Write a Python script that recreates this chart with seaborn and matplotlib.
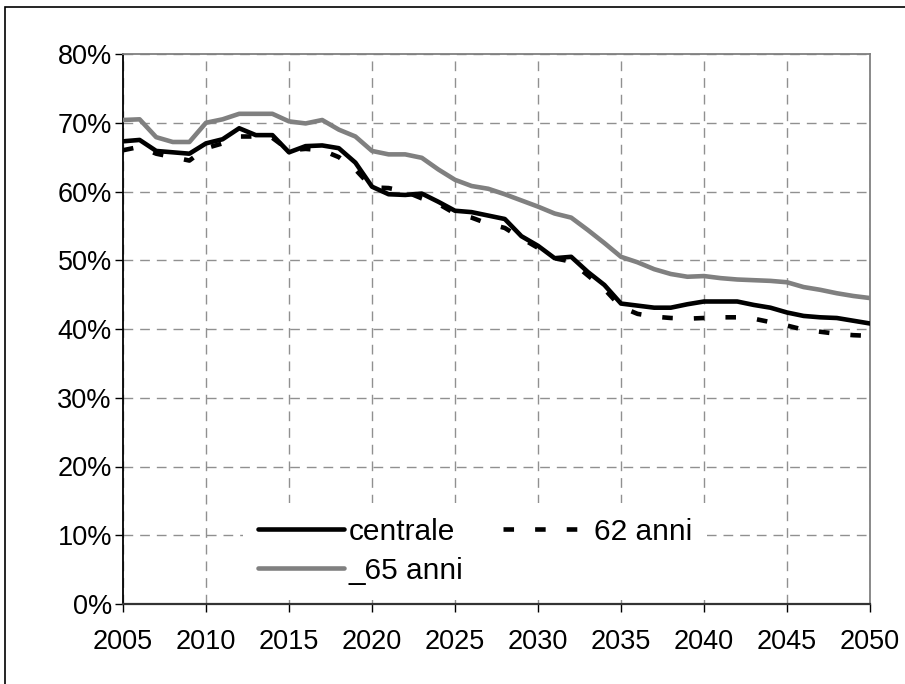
import numpy as np
import pandas as pd
import matplotlib
matplotlib.use("Agg")
import matplotlib.pyplot as plt
from matplotlib.lines import Line2D
from matplotlib.patches import Rectangle
import matplotlib.ticker as mticker
import seaborn as sns

years = list(range(2005, 2051))
centrale = [67.3, 67.5, 65.9, 65.7, 65.5, 67.0, 67.6, 69.2, 68.2, 68.2,
            65.7, 66.6, 66.7, 66.3, 64.2, 60.7, 59.6, 59.5, 59.7, 58.5,
            57.2, 57.0, 56.5, 56.0, 53.5, 52.1, 50.3, 50.5, 48.3, 46.4,
            43.7, 43.4, 43.1, 43.1, 43.6, 44.0, 44.0, 44.0, 43.5, 43.1,
            42.4, 41.9, 41.7, 41.6, 41.2, 40.8]
anni62 = [66.0, 66.5, 65.5, 65.0, 64.5, 66.3, 67.0, 68.0, 68.0, 67.8,
          66.0, 66.2, 66.0, 65.0, 63.2, 60.6, 60.5, 60.0, 59.0, 58.2,
          56.8, 56.2, 55.3, 54.7, 53.2, 51.8, 50.3, 49.8, 47.8, 45.8,
          43.2, 42.2, 41.8, 41.6, 41.5, 41.6, 41.7, 41.7, 41.5, 41.0,
          40.5, 39.9, 39.6, 39.3, 39.1, 39.0]
anni65 = [70.4, 70.5, 67.9, 67.2, 67.2, 70.0, 70.5, 71.3, 71.3, 71.3,
          70.2, 69.9, 70.4, 69.0, 68.0, 65.9, 65.4, 65.4, 64.9, 63.2,
          61.7, 60.8, 60.4, 59.6, 58.7, 57.8, 56.8, 56.2, 54.4, 52.5,
          50.5, 49.7, 48.7, 48.0, 47.6, 47.7, 47.4, 47.2, 47.1, 47.0,
          46.8, 46.1, 45.7, 45.2, 44.8, 44.5]
labels = ["centrale", "62 anni", "_65 anni"]
xticks = list(range(2005, 2051, 5))
yticks = list(range(0, 81, 10))

df = pd.DataFrame({"anno": years, "centrale": centrale,
                   "62 anni": anni62, "_65 anni": anni65})

sns.set_style("white")
plt.rcParams["font.family"] = ["Liberation Sans", "DejaVu Sans"]
plt.rcParams["text.color"] = "black"

fig = plt.figure(figsize=(9.05, 6.84), dpi=100)
ax = fig.add_axes([123 / 905, 1 - 604 / 684, 747 / 905, 550 / 684])

grey = "#808080"
sns.lineplot(data=df, x="anno", y="centrale", ax=ax, color="black", lw=3.3, zorder=3)
sns.lineplot(data=df, x="anno", y="62 anni", ax=ax, color="black", lw=3.3, zorder=4,
             linestyle=(0, (2.3, 4.6)))
sns.lineplot(data=df, x="anno", y="_65 anni", ax=ax, color=grey, lw=3.3, zorder=5)

ax.set_xlim(2005, 2050)
ax.set_ylim(0, 80)
ax.set_xticks(xticks)
ax.set_yticks(yticks)
ax.yaxis.set_major_formatter(mticker.FuncFormatter(lambda v, p: f"{int(v)}%"))
ax.set_xlabel("")
ax.set_ylabel("")
ax.tick_params(axis="both", which="major", labelsize=19.5, length=6, width=1,
               direction="out", color="black", labelcolor="black",
               left=True, bottom=True)
ax.tick_params(axis="x", pad=12)
ax.tick_params(axis="y", pad=2)
ax.grid(True, color="#909090", linestyle=(0, (7, 5)), linewidth=1)
ax.set_axisbelow(True)
for s in ["top", "right"]:
    ax.spines[s].set_color(grey)
    ax.spines[s].set_linewidth(1.3)
ax.spines["left"].set_color("black")
ax.spines["left"].set_linewidth(1.3)
ax.spines["bottom"].set_color("#333333")
ax.spines["bottom"].set_linewidth(1.6)

handles = [Line2D([], [], color="black", lw=3.3),
           Line2D([], [], color=grey, lw=3.3),
           Line2D([], [], color="black", lw=3.3, linestyle=(0, (2.3, 4.6)))]
hl = [labels[0], labels[2], labels[1]]
leg = ax.legend(handles, hl, ncol=2, loc="upper left",
                bbox_to_anchor=(0.1606, 0.1844), frameon=True, fontsize=21.5,
                handlelength=2.9, handletextpad=0.15, columnspacing=1.3,
                labelspacing=0.38, borderpad=0.5, borderaxespad=0,
                fancybox=False, framealpha=1, labelcolor="black")
leg.get_frame().set_facecolor("white")
leg.get_frame().set_edgecolor("none")
leg.set_zorder(10)

fig.patches.append(Rectangle((5 / 905, -0.05), 1.2, 1 - 7 / 684 + 0.05,
                             transform=fig.transFigure, fill=False,
                             edgecolor="black", lw=1.2))

fig.savefig("out.png", dpi=100)
